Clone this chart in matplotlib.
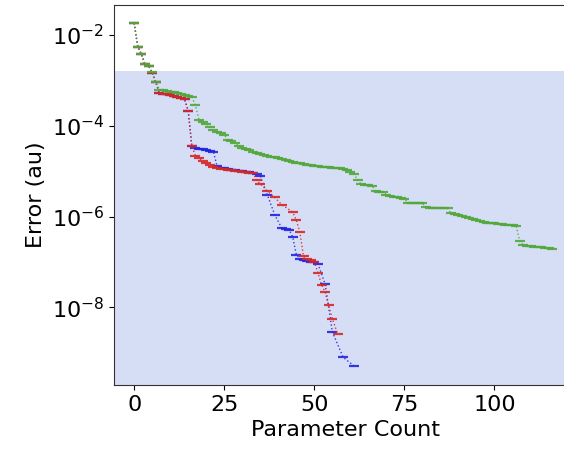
import matplotlib
matplotlib.use("Agg")
import matplotlib.pyplot as plt
from matplotlib.ticker import FixedLocator, NullLocator, LogFormatterMathtext

# ---- data ----
green_x = list(range(117))
green_err = [
    1.82e-2, 5.5e-3, 3.8e-3, 2.24e-3, 2.09e-3, 1.51e-3, 9.33e-4, 6.17e-4, 6.03e-4, 5.75e-4,
    5.62e-4, 5.50e-4, 5.25e-4, 5.01e-4, 4.79e-4, 4.57e-4, 4.37e-4, 2.82e-4, 1.35e-4, 1.23e-4,
    1.12e-4, 9.55e-5, 7.94e-5, 7.41e-5, 6.92e-5, 6.31e-5, 4.90e-5, 4.57e-5, 4.17e-5, 3.55e-5,
    3.31e-5, 3.09e-5, 2.88e-5, 2.69e-5, 2.51e-5, 2.40e-5, 2.29e-5, 2.19e-5, 2.09e-5, 2.00e-5,
    1.91e-5, 1.86e-5, 1.78e-5, 1.70e-5, 1.62e-5, 1.55e-5, 1.48e-5, 1.41e-5, 1.38e-5, 1.35e-5,
    1.32e-5, 1.29e-5, 1.26e-5, 1.23e-5, 1.23e-5, 1.20e-5, 1.17e-5, 1.15e-5, 1.12e-5, 1.05e-5,
    9.55e-6, 8.71e-6, 6.46e-6, 5.13e-6, 5.01e-6, 4.90e-6, 4.79e-6, 3.63e-6, 3.55e-6, 3.47e-6,
    3.02e-6, 2.88e-6, 2.75e-6, 2.63e-6, 2.51e-6, 2.40e-6, 2.04e-6, 2.00e-6, 2.00e-6, 1.95e-6,
    1.95e-6, 1.62e-6, 1.58e-6, 1.58e-6, 1.58e-6, 1.55e-6, 1.55e-6, 1.51e-6, 1.17e-6, 1.12e-6,
    1.07e-6, 1.02e-6, 9.77e-7, 9.12e-7, 8.71e-7, 8.32e-7, 7.94e-7, 7.59e-7, 7.24e-7, 7.08e-7,
    7.08e-7, 6.92e-7, 6.76e-7, 6.61e-7, 6.61e-7, 6.46e-7, 6.31e-7, 2.88e-7, 2.34e-7, 2.29e-7,
    2.24e-7, 2.19e-7, 2.14e-7, 2.09e-7, 2.04e-7, 2.00e-7, 1.95e-7,
]

red_x = [0, 1, 2, 3, 4, 5, 6, 7, 8, 9, 10, 11, 12, 13, 14, 15, 16, 17, 18, 19,
         20, 21, 22, 23, 24, 25, 26, 27, 28, 29, 30, 31, 32, 33, 34, 35, 37, 39, 41, 44,
         45, 46, 47, 48, 49, 50, 51, 52, 53, 54, 55, 56.5]
red_err = [
    1.82e-2, 5.5e-3, 3.8e-3, 2.24e-3, 2.09e-3, 1.45e-3, 9.0e-4, 5.25e-4, 5.01e-4, 4.90e-4,
    4.68e-4, 4.47e-4, 4.27e-4, 4.07e-4, 3.80e-4, 2.14e-4, 3.55e-5, 2.19e-5, 1.91e-5, 1.70e-5,
    1.51e-5, 1.38e-5, 1.26e-5, 1.17e-5, 1.12e-5, 1.10e-5, 1.07e-5, 1.05e-5, 1.02e-5, 1.00e-5,
    9.77e-6, 9.55e-6, 9.33e-6, 9.12e-6, 6.31e-6, 5.25e-6, 3.63e-6, 2.63e-6, 1.82e-6, 1.26e-6,
    8.32e-7, 4.47e-7, 1.32e-7, 1.17e-7, 1.10e-7, 1.00e-7, 5.75e-8, 3.16e-8, 2.14e-8, 1.10e-8,
    5.62e-9, 2.57e-9,
]

blue_x = [0, 1, 2, 3, 4, 5, 6, 7, 8, 9, 10, 11, 12, 13, 14, 15, 16, 17, 18, 19,
          20, 21, 22, 23, 24, 25, 26, 27, 28, 29, 30, 31, 32, 33, 34, 35, 37, 39, 41, 42,
          43, 44, 45, 46, 47, 48, 49, 50, 51, 53, 55, 58, 61]
blue_err = [
    1.82e-2, 5.5e-3, 3.8e-3, 2.24e-3, 2.09e-3, 1.45e-3, 9.0e-4, 5.25e-4, 5.01e-4, 4.90e-4,
    4.68e-4, 4.47e-4, 4.27e-4, 4.07e-4, 3.80e-4, 2.14e-4, 3.55e-5, 3.31e-5, 3.09e-5, 3.02e-5,
    2.88e-5, 2.82e-5, 2.69e-5, 1.29e-5, 1.20e-5, 1.15e-5, 1.10e-5, 1.07e-5, 1.05e-5, 1.02e-5,
    1.00e-5, 9.77e-6, 9.55e-6, 9.33e-6, 8.71e-6, 7.76e-6, 2.95e-6, 1.10e-6, 5.50e-7, 5.37e-7,
    5.13e-7, 3.55e-7, 1.45e-7, 1.17e-7, 1.12e-7, 1.07e-7, 1.02e-7, 9.77e-8, 9.12e-8, 3.24e-8,
    2.88e-9, 7.94e-10, 5.13e-10,
]

threshold = 1.6e-3
y_ticks = [1e-2, 1e-4, 1e-6, 1e-8]

# ---- figure ----
fig = plt.figure(figsize=(5.64, 4.5), dpi=100)
ax = fig.add_axes([114 / 564, 65 / 450, (577 - 114) / 564, 380 / 450])
ax.set_yscale("log")

ax.axhspan(1e-12, threshold, color="#d6def5", zorder=0, lw=0)

style = dict(linestyle=":", linewidth=1.0, marker="_", markersize=7, markeredgewidth=1.6)
ax.plot(blue_x, blue_err, color="#2424e0", alpha=0.9, **style)
ax.plot(red_x, red_err, color="#d62728", alpha=0.9, **style)
ax.plot(green_x, green_err, color="#52a83c", alpha=0.9, **style)

ax.set_xlim(-5.6, 122.9)
ax.set_ylim(10 ** -9.71, 10 ** -1.34)

ax.yaxis.set_major_locator(FixedLocator(y_ticks))
ax.yaxis.set_major_formatter(LogFormatterMathtext())
ax.yaxis.set_minor_locator(NullLocator())
ax.set_xticks([0, 25, 50, 75, 100])

ax.tick_params(labelsize=16)
ax.set_xlabel("Parameter Count", fontsize=16)
ax.set_ylabel("Error (au)", fontsize=16)

for s in ax.spines.values():
    s.set_color("#333333")

fig.savefig("out.png", dpi=100)
